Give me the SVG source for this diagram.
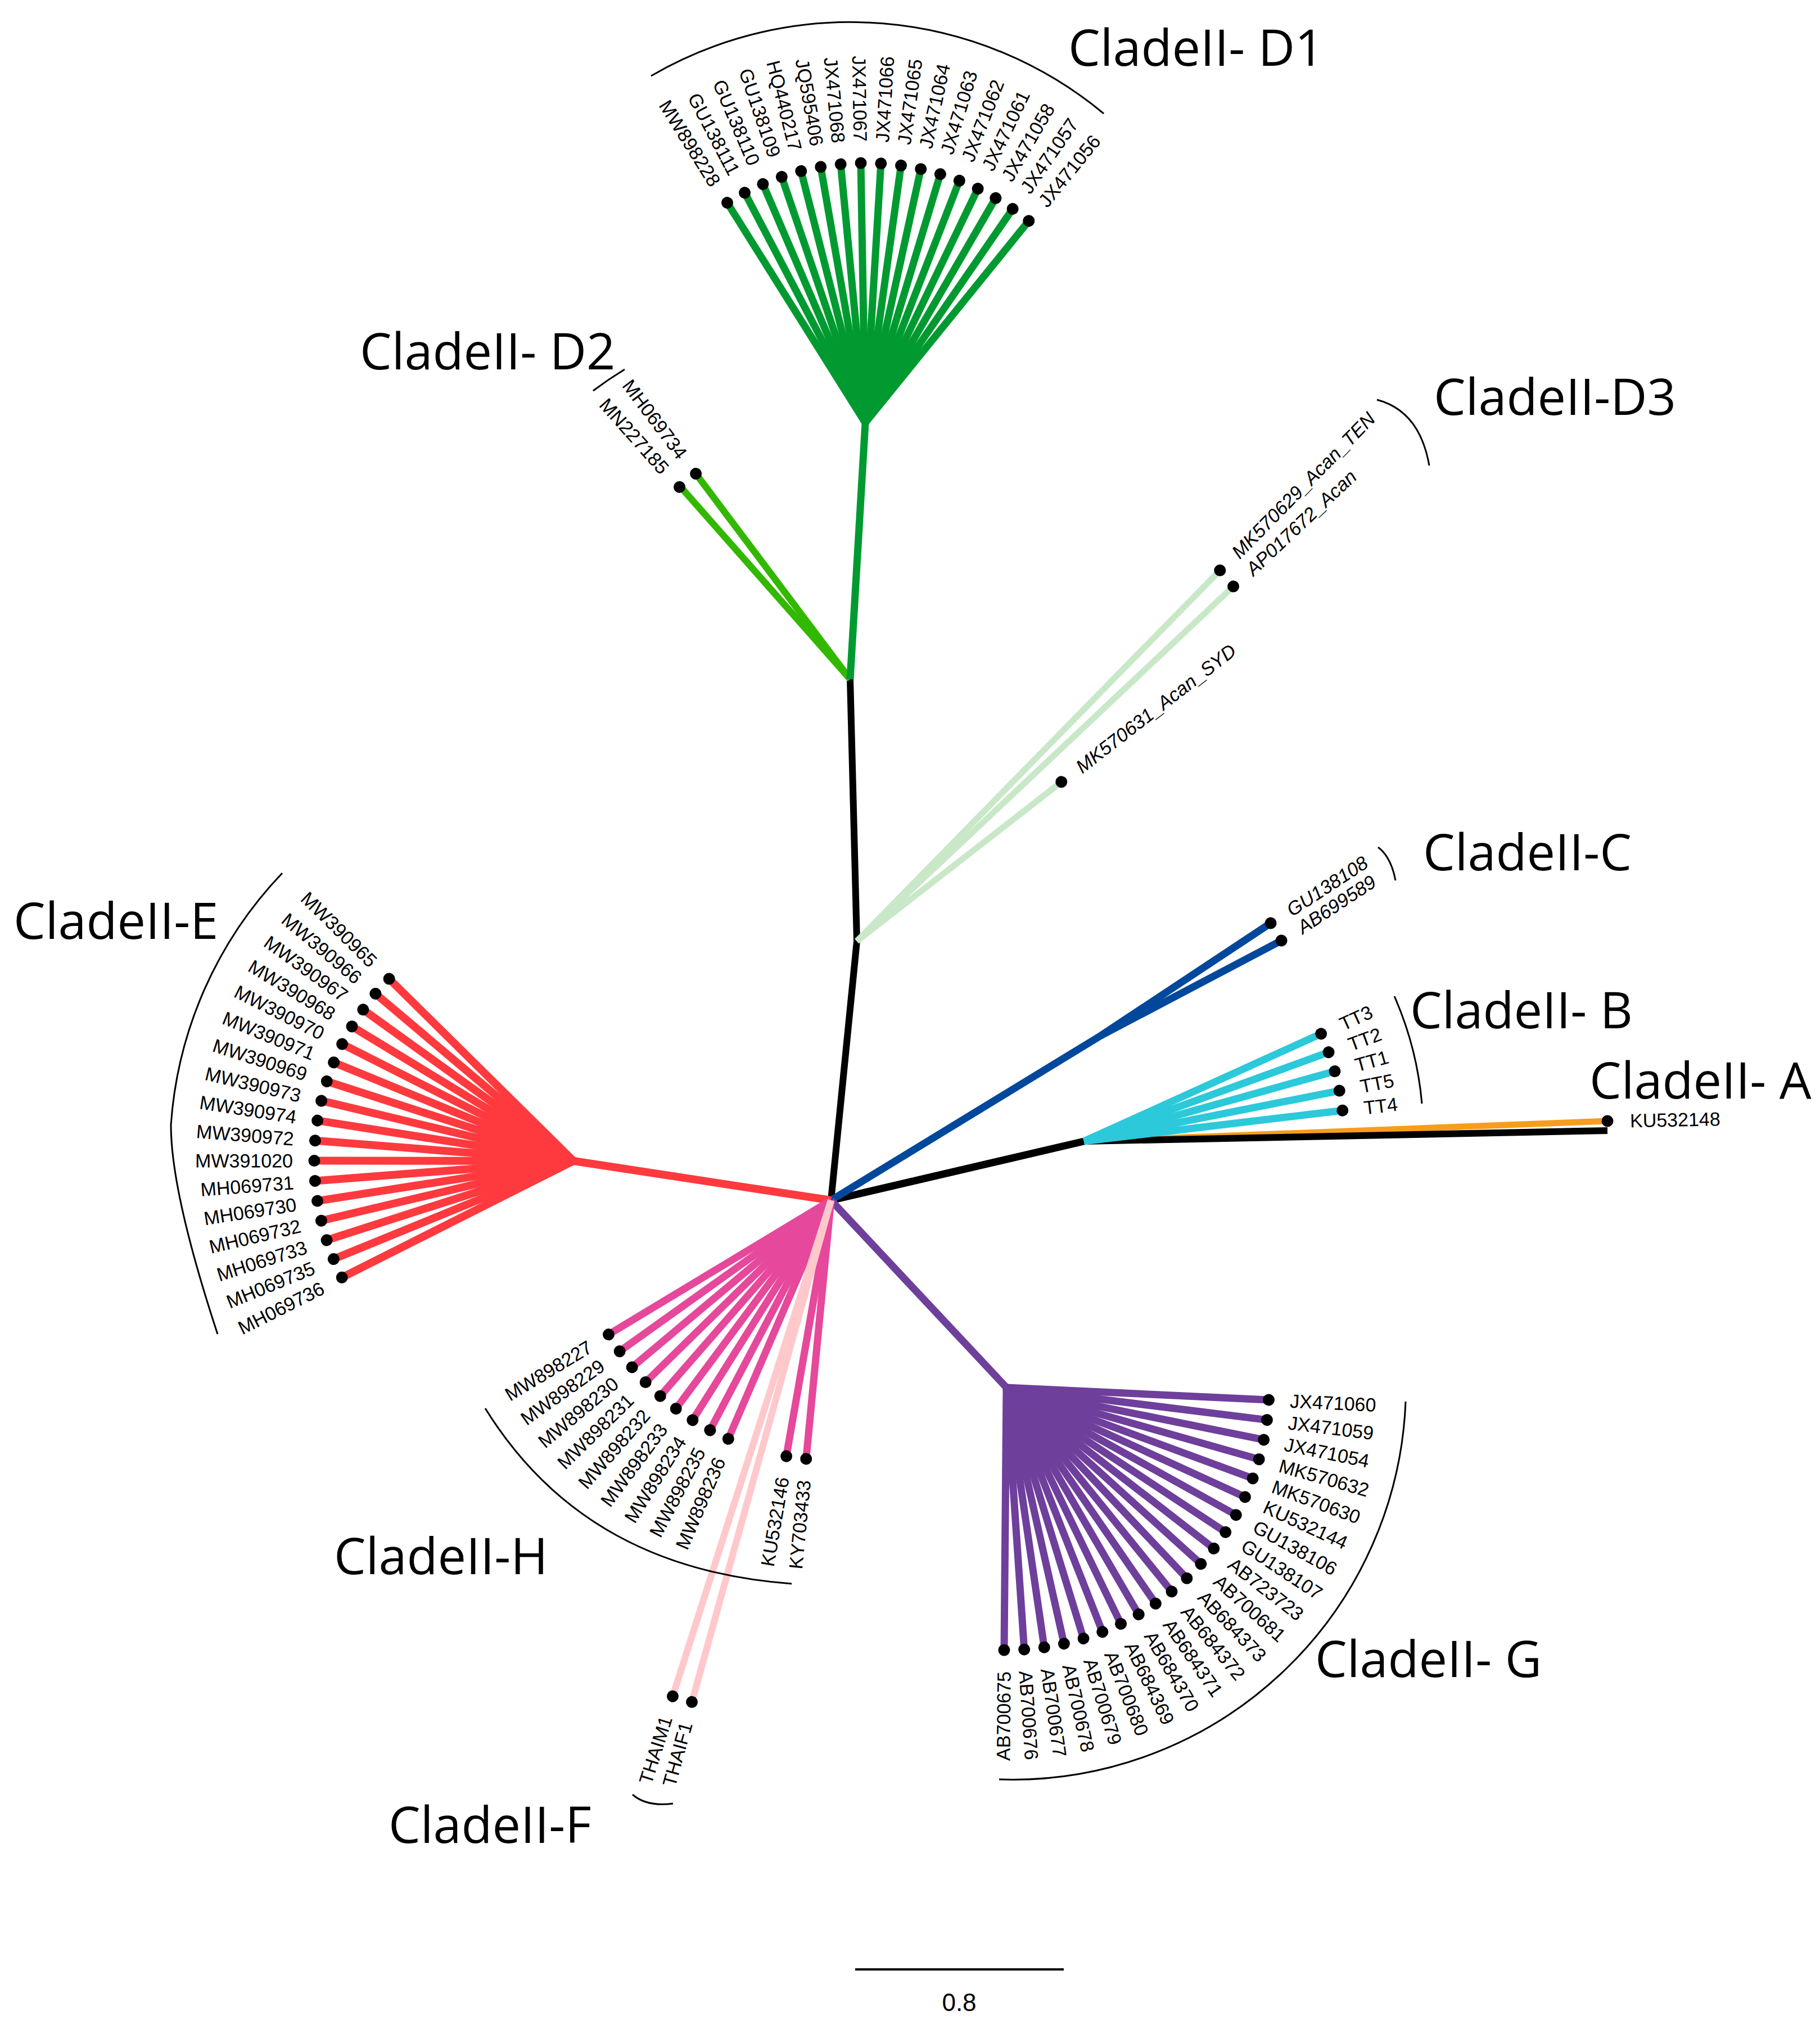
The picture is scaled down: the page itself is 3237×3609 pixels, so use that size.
<svg xmlns="http://www.w3.org/2000/svg" width="3237" height="3609" viewBox="0 0 3237 3609">
<style>
text.l{font-family:"Liberation Sans",Arial,sans-serif;font-size:34px;dominant-baseline:central;fill:#000}
text.f{text-anchor:end}
text.i{font-style:italic}
text.c{font-family:"Open Sans","Noto Sans",sans-serif;font-size:90px;fill:#000}
circle{fill:#000}
line{stroke-linecap:butt}
.brk{fill:none;stroke:#000;stroke-width:3}
.d1{stroke:#009a31;stroke-width:13}
.d2{stroke:#33b800;stroke-width:12}
.d3{stroke:#c8e8c8;stroke-width:11}
.cc{stroke:#00489c;stroke-width:13}
.bb{stroke:#2bc9da;stroke-width:13}
.ee{stroke:#fe3a3f;stroke-width:14}
.hh{stroke:#e6489b;stroke-width:13}
.ff{stroke:#ffc8cb;stroke-width:12}
.gg{stroke:#6e3f9b;stroke-width:13}
</style>
<rect width="3237" height="3609" fill="#fff"/>
<g id="connectors">
  <polyline points="1478,2135 1524,1674 1512,1208" fill="none" stroke="#000" stroke-width="12" stroke-linejoin="round"/>
  <g class="d3" transform="translate(1524,1674)">
    <line x2="923" transform="rotate(-45.6)"/>
    <line x2="920" transform="rotate(-43.3)"/>
    <line x2="461" transform="rotate(-37.9)"/>
  </g>
  <g class="d2" transform="translate(1512,1208)">
    <line x2="457" transform="rotate(-126.9)"/>
    <line x2="457" transform="rotate(-131.4)"/>
  </g>
  <line class="d1" x1="1512" y1="1208" x2="1539" y2="752"/>
  <g class="d1" transform="translate(1539,752)">
    <line x2="462" transform="rotate(-122.1)"/>
    <line x2="462" transform="rotate(-117.66)"/>
    <line x2="462" transform="rotate(-113.21)"/>
    <line x2="462" transform="rotate(-108.77)"/>
    <line x2="462" transform="rotate(-104.32)"/>
    <line x2="462" transform="rotate(-99.88)"/>
    <line x2="462" transform="rotate(-95.44)"/>
    <line x2="462" transform="rotate(-90.99)"/>
    <line x2="462" transform="rotate(-86.55)"/>
    <line x2="462" transform="rotate(-82.1)"/>
    <line x2="462" transform="rotate(-77.66)"/>
    <line x2="462" transform="rotate(-73.22)"/>
    <line x2="462" transform="rotate(-68.77)"/>
    <line x2="462" transform="rotate(-64.33)"/>
    <line x2="462" transform="rotate(-59.88)"/>
    <line x2="462" transform="rotate(-55.44)"/>
    <line x2="462" transform="rotate(-51)"/>
  </g>
  <line x1="1478" y1="2135" x2="1928" y2="2030" stroke="#000" stroke-width="13"/>
  <line x1="1928" y1="2030" x2="2859" y2="1994" stroke="#f79d1c" stroke-width="11"/>
  <line x1="1928" y1="2030" x2="2859" y2="2011" stroke="#000" stroke-width="12"/>
  <polyline class="cc" points="1478,2135 1958,1842 2260,1642" fill="none" stroke-linejoin="round"/>
  <line class="cc" x1="1958" y1="1842" x2="2279" y2="1673"/>
  <g class="bb" transform="translate(1928,2030)">
    <line x2="463" transform="rotate(-24.4)"/>
    <line x2="463" transform="rotate(-20)"/>
    <line x2="463" transform="rotate(-15.6)"/>
    <line x2="463" transform="rotate(-11.2)"/>
    <line x2="463" transform="rotate(-6.8)"/>
  </g>
  <line class="ee" x1="1478" y1="2135" x2="1020" y2="2065"/>
  <g class="ee" transform="translate(1020,2065)">
    <line x2="461" transform="rotate(224.65)"/>
    <line x2="461" transform="rotate(220.19)"/>
    <line x2="461" transform="rotate(215.73)"/>
    <line x2="461" transform="rotate(211.27)"/>
    <line x2="461" transform="rotate(206.81)"/>
    <line x2="461" transform="rotate(202.35)"/>
    <line x2="461" transform="rotate(197.89)"/>
    <line x2="461" transform="rotate(193.43)"/>
    <line x2="461" transform="rotate(188.97)"/>
    <line x2="461" transform="rotate(184.51)"/>
    <line x2="461" transform="rotate(180.05)"/>
    <line x2="461" transform="rotate(175.59)"/>
    <line x2="461" transform="rotate(171.13)"/>
    <line x2="461" transform="rotate(166.67)"/>
    <line x2="461" transform="rotate(162.21)"/>
    <line x2="461" transform="rotate(157.75)"/>
    <line x2="461" transform="rotate(153.29)"/>
  </g>
  <line class="gg" x1="1478" y1="2135" x2="1790" y2="2468"/>
  <g class="gg" transform="translate(1790,2468)">
    <line x2="467" transform="rotate(2.7)"/>
    <line x2="467" transform="rotate(7.09)"/>
    <line x2="467" transform="rotate(11.48)"/>
    <line x2="467" transform="rotate(15.87)"/>
    <line x2="467" transform="rotate(20.26)"/>
    <line x2="467" transform="rotate(24.65)"/>
    <line x2="467" transform="rotate(29.04)"/>
    <line x2="467" transform="rotate(33.43)"/>
    <line x2="467" transform="rotate(37.82)"/>
    <line x2="467" transform="rotate(42.21)"/>
    <line x2="467" transform="rotate(46.6)"/>
    <line x2="467" transform="rotate(50.99)"/>
    <line x2="467" transform="rotate(55.38)"/>
    <line x2="467" transform="rotate(59.77)"/>
    <line x2="467" transform="rotate(64.16)"/>
    <line x2="467" transform="rotate(68.55)"/>
    <line x2="467" transform="rotate(72.94)"/>
    <line x2="467" transform="rotate(77.33)"/>
    <line x2="467" transform="rotate(81.72)"/>
    <line x2="467" transform="rotate(86.11)"/>
    <line x2="467" transform="rotate(90.5)"/>
  </g>
  <g class="hh" transform="translate(1478,2135)">
    <line x2="462" transform="rotate(148.9)"/>
    <line x2="462" transform="rotate(144.45)"/>
    <line x2="462" transform="rotate(140)"/>
    <line x2="462" transform="rotate(135.55)"/>
    <line x2="462" transform="rotate(131.1)"/>
    <line x2="462" transform="rotate(126.65)"/>
    <line x2="462" transform="rotate(122.2)"/>
    <line x2="462" transform="rotate(117.75)"/>
    <line x2="462" transform="rotate(113.3)"/>
    <line x2="462" transform="rotate(99.9)"/>
    <line x2="462" transform="rotate(95.5)"/>
  </g>
  <g class="ff" transform="translate(1478,2135)">
    <line x2="926" transform="rotate(107.7)"/>
    <line x2="926" transform="rotate(105.5)"/>
  </g>
</g>
<g id="brackets">
  <path class="brk" d="M1158,135 A705,705 0 0 1 1963,202"/>
  <path class="brk" d="M1111,657 A684,684 0 0 0 1055,695"/>
  <path class="brk" d="M2449,711 Q2525,731 2542,828"/>
  <path class="brk" d="M2451,1507 Q2474,1524 2482,1566"/>
  <path class="brk" d="M2480,1772 A608,608 0 0 1 2529,1963"/>
  <path class="brk" d="M502,1553 A720,720 0 0 0 304,2001 C304,2090 340,2230 387,2373"/>
  <path class="brk" d="M863,2505 C990,2710 1180,2800 1408,2817"/>
  <path class="brk" d="M1125,3192 Q1150,3214 1197,3208"/>
  <path class="brk" d="M2500,2493 A700,700 0 0 1 1777,3165"/>
</g>
<g id="clade-D1" transform="translate(1539,752)">
  <g id="MW898228" transform="rotate(-122.1)"><circle cx="462" r="10.5"/><text class="l f" x="500" transform="rotate(180 500 0)">MW898228</text></g>
  <g id="GU138111" transform="rotate(-117.66)"><circle cx="462" r="10.5"/><text class="l f" x="500" transform="rotate(180 500 0)">GU138111</text></g>
  <g id="GU138110" transform="rotate(-113.21)"><circle cx="462" r="10.5"/><text class="l f" x="500" transform="rotate(180 500 0)">GU138110</text></g>
  <g id="GU138109" transform="rotate(-108.77)"><circle cx="462" r="10.5"/><text class="l f" x="500" transform="rotate(180 500 0)">GU138109</text></g>
  <g id="HQ440217" transform="rotate(-104.32)"><circle cx="462" r="10.5"/><text class="l f" x="500" transform="rotate(180 500 0)">HQ440217</text></g>
  <g id="JQ595406" transform="rotate(-99.88)"><circle cx="462" r="10.5"/><text class="l f" x="500" transform="rotate(180 500 0)">JQ595406</text></g>
  <g id="JX471068" transform="rotate(-95.44)"><circle cx="462" r="10.5"/><text class="l f" x="500" transform="rotate(180 500 0)">JX471068</text></g>
  <g id="JX471067" transform="rotate(-90.99)"><circle cx="462" r="10.5"/><text class="l f" x="500" transform="rotate(180 500 0)">JX471067</text></g>
  <g id="JX471066" transform="rotate(-86.55)"><circle cx="462" r="10.5"/><text class="l" x="500">JX471066</text></g>
  <g id="JX471065" transform="rotate(-82.1)"><circle cx="462" r="10.5"/><text class="l" x="500">JX471065</text></g>
  <g id="JX471064" transform="rotate(-77.66)"><circle cx="462" r="10.5"/><text class="l" x="500">JX471064</text></g>
  <g id="JX471063" transform="rotate(-73.22)"><circle cx="462" r="10.5"/><text class="l" x="500">JX471063</text></g>
  <g id="JX471062" transform="rotate(-68.77)"><circle cx="462" r="10.5"/><text class="l" x="500">JX471062</text></g>
  <g id="JX471061" transform="rotate(-64.33)"><circle cx="462" r="10.5"/><text class="l" x="500">JX471061</text></g>
  <g id="JX471058" transform="rotate(-59.88)"><circle cx="462" r="10.5"/><text class="l" x="500">JX471058</text></g>
  <g id="JX471057" transform="rotate(-55.44)"><circle cx="462" r="10.5"/><text class="l" x="500">JX471057</text></g>
  <g id="JX471056" transform="rotate(-51)"><circle cx="462" r="10.5"/><text class="l" x="500">JX471056</text></g>
</g>
<g id="clade-D2" transform="translate(1512,1208)">
  <g id="MH069734" transform="rotate(-126.9)"><circle cx="457" r="10.5"/><text class="l f" x="495" transform="rotate(180 495 0)">MH069734</text></g>
  <g id="MN227185" transform="rotate(-131.6)"><circle cx="457" r="10.5"/><text class="l f" x="495" transform="rotate(180 495 0)">MN227185</text></g>
</g>
<g id="clade-D3" transform="translate(1524,1674)">
  <g id="MK570629_Acan_TEN" transform="rotate(-45.6)"><circle cx="923" r="10.5"/><text class="l i" x="961">MK570629_Acan_TEN</text></g>
  <g id="AP017672_Acan" transform="rotate(-43.3)"><circle cx="920" r="10.5"/><text class="l i" x="958">AP017672_Acan</text></g>
  <g id="MK570631_Acan_SYD" transform="rotate(-37.9)"><circle cx="461" r="10.5"/><text class="l i" x="499">MK570631_Acan_SYD</text></g>
</g>
<g id="clade-C">
  <g id="GU138108" transform="translate(2260,1642) rotate(-33.3)"><circle r="10.5"/><text class="l i" x="38">GU138108</text></g>
  <g id="AB699589" transform="translate(2279,1673) rotate(-33.3)"><circle r="10.5"/><text class="l i" x="38">AB699589</text></g>
</g>
<g id="clade-B" transform="translate(1928,2030)">
  <g id="TT3" transform="rotate(-24.4)"><circle cx="463" r="10.5"/><text class="l" x="501">TT3</text></g>
  <g id="TT2" transform="rotate(-20)"><circle cx="463" r="10.5"/><text class="l" x="501">TT2</text></g>
  <g id="TT1" transform="rotate(-15.6)"><circle cx="463" r="10.5"/><text class="l" x="501">TT1</text></g>
  <g id="TT5" transform="rotate(-11.2)"><circle cx="463" r="10.5"/><text class="l" x="501">TT5</text></g>
  <g id="TT4" transform="rotate(-6.8)"><circle cx="463" r="10.5"/><text class="l" x="501">TT4</text></g>
</g>
<g id="clade-A">
  <g id="KU532148" transform="translate(2859,1994) rotate(-1.1)"><circle r="10.5"/><text class="l" x="40">KU532148</text></g>
</g>
<g id="clade-E" transform="translate(1020,2065)">
  <g id="MW390965" transform="rotate(224.65)"><circle cx="461" r="10.5"/><text class="l f" x="499" transform="rotate(180 499 0)">MW390965</text></g>
  <g id="MW390966" transform="rotate(220.19)"><circle cx="461" r="10.5"/><text class="l f" x="499" transform="rotate(180 499 0)">MW390966</text></g>
  <g id="MW390967" transform="rotate(215.73)"><circle cx="461" r="10.5"/><text class="l f" x="499" transform="rotate(180 499 0)">MW390967</text></g>
  <g id="MW390968" transform="rotate(211.27)"><circle cx="461" r="10.5"/><text class="l f" x="499" transform="rotate(180 499 0)">MW390968</text></g>
  <g id="MW390970" transform="rotate(206.81)"><circle cx="461" r="10.5"/><text class="l f" x="499" transform="rotate(180 499 0)">MW390970</text></g>
  <g id="MW390971" transform="rotate(202.35)"><circle cx="461" r="10.5"/><text class="l f" x="499" transform="rotate(180 499 0)">MW390971</text></g>
  <g id="MW390969" transform="rotate(197.89)"><circle cx="461" r="10.5"/><text class="l f" x="499" transform="rotate(180 499 0)">MW390969</text></g>
  <g id="MW390973" transform="rotate(193.43)"><circle cx="461" r="10.5"/><text class="l f" x="499" transform="rotate(180 499 0)">MW390973</text></g>
  <g id="MW390974" transform="rotate(188.97)"><circle cx="461" r="10.5"/><text class="l f" x="499" transform="rotate(180 499 0)">MW390974</text></g>
  <g id="MW390972" transform="rotate(184.51)"><circle cx="461" r="10.5"/><text class="l f" x="499" transform="rotate(180 499 0)">MW390972</text></g>
  <g id="MW391020" transform="rotate(180.05)"><circle cx="461" r="10.5"/><text class="l f" x="499" transform="rotate(180 499 0)">MW391020</text></g>
  <g id="MH069731" transform="rotate(175.59)"><circle cx="461" r="10.5"/><text class="l f" x="499" transform="rotate(180 499 0)">MH069731</text></g>
  <g id="MH069730" transform="rotate(171.13)"><circle cx="461" r="10.5"/><text class="l f" x="499" transform="rotate(180 499 0)">MH069730</text></g>
  <g id="MH069732" transform="rotate(166.67)"><circle cx="461" r="10.5"/><text class="l f" x="499" transform="rotate(180 499 0)">MH069732</text></g>
  <g id="MH069733" transform="rotate(162.21)"><circle cx="461" r="10.5"/><text class="l f" x="499" transform="rotate(180 499 0)">MH069733</text></g>
  <g id="MH069735" transform="rotate(157.75)"><circle cx="461" r="10.5"/><text class="l f" x="499" transform="rotate(180 499 0)">MH069735</text></g>
  <g id="MH069736" transform="rotate(153.29)"><circle cx="461" r="10.5"/><text class="l f" x="499" transform="rotate(180 499 0)">MH069736</text></g>
</g>
<g id="clade-H" transform="translate(1478,2135)">
  <g id="MW898227" transform="rotate(148.9)"><circle cx="462" r="10.5"/><text class="l f" x="500" transform="rotate(180 500 0)">MW898227</text></g>
  <g id="MW898229" transform="rotate(144.45)"><circle cx="462" r="10.5"/><text class="l f" x="500" transform="rotate(180 500 0)">MW898229</text></g>
  <g id="MW898230" transform="rotate(140)"><circle cx="462" r="10.5"/><text class="l f" x="500" transform="rotate(180 500 0)">MW898230</text></g>
  <g id="MW898231" transform="rotate(135.55)"><circle cx="462" r="10.5"/><text class="l f" x="500" transform="rotate(180 500 0)">MW898231</text></g>
  <g id="MW898232" transform="rotate(131.1)"><circle cx="462" r="10.5"/><text class="l f" x="500" transform="rotate(180 500 0)">MW898232</text></g>
  <g id="MW898233" transform="rotate(126.65)"><circle cx="462" r="10.5"/><text class="l f" x="500" transform="rotate(180 500 0)">MW898233</text></g>
  <g id="MW898234" transform="rotate(122.2)"><circle cx="462" r="10.5"/><text class="l f" x="500" transform="rotate(180 500 0)">MW898234</text></g>
  <g id="MW898235" transform="rotate(117.75)"><circle cx="462" r="10.5"/><text class="l f" x="500" transform="rotate(180 500 0)">MW898235</text></g>
  <g id="MW898236" transform="rotate(113.3)"><circle cx="462" r="10.5"/><text class="l f" x="500" transform="rotate(180 500 0)">MW898236</text></g>
  <g id="KU532146" transform="rotate(99.9)"><circle cx="462" r="10.5"/><text class="l f" x="500" transform="rotate(180 500 0)">KU532146</text></g>
  <g id="KY703433" transform="rotate(95.5)"><circle cx="462" r="10.5"/><text class="l f" x="500" transform="rotate(180 500 0)">KY703433</text></g>
</g>
<g id="clade-F" transform="translate(1478,2135)">
  <g id="THAIM1" transform="rotate(107.7)"><circle cx="926" r="10.5"/><text class="l f" x="964" transform="rotate(180 964 0)">THAIM1</text></g>
  <g id="THAIF1" transform="rotate(105.5)"><circle cx="926" r="10.5"/><text class="l f" x="964" transform="rotate(180 964 0)">THAIF1</text></g>
</g>
<g id="clade-G" transform="translate(1790,2468)">
  <g id="JX471060" transform="rotate(2.7)"><circle cx="467" r="10.5"/><text class="l" x="505">JX471060</text></g>
  <g id="JX471059" transform="rotate(7.09)"><circle cx="467" r="10.5"/><text class="l" x="505">JX471059</text></g>
  <g id="JX471054" transform="rotate(11.48)"><circle cx="467" r="10.5"/><text class="l" x="505">JX471054</text></g>
  <g id="MK570632" transform="rotate(15.87)"><circle cx="467" r="10.5"/><text class="l" x="505">MK570632</text></g>
  <g id="MK570630" transform="rotate(20.26)"><circle cx="467" r="10.5"/><text class="l" x="505">MK570630</text></g>
  <g id="KU532144" transform="rotate(24.65)"><circle cx="467" r="10.5"/><text class="l" x="505">KU532144</text></g>
  <g id="GU138106" transform="rotate(29.04)"><circle cx="467" r="10.5"/><text class="l" x="505">GU138106</text></g>
  <g id="GU138107" transform="rotate(33.43)"><circle cx="467" r="10.5"/><text class="l" x="505">GU138107</text></g>
  <g id="AB723723" transform="rotate(37.82)"><circle cx="467" r="10.5"/><text class="l" x="505">AB723723</text></g>
  <g id="AB700681" transform="rotate(42.21)"><circle cx="467" r="10.5"/><text class="l" x="505">AB700681</text></g>
  <g id="AB684373" transform="rotate(46.6)"><circle cx="467" r="10.5"/><text class="l" x="505">AB684373</text></g>
  <g id="AB684372" transform="rotate(50.99)"><circle cx="467" r="10.5"/><text class="l" x="505">AB684372</text></g>
  <g id="AB684371" transform="rotate(55.38)"><circle cx="467" r="10.5"/><text class="l" x="505">AB684371</text></g>
  <g id="AB684370" transform="rotate(59.77)"><circle cx="467" r="10.5"/><text class="l" x="505">AB684370</text></g>
  <g id="AB684369" transform="rotate(64.16)"><circle cx="467" r="10.5"/><text class="l" x="505">AB684369</text></g>
  <g id="AB700680" transform="rotate(68.55)"><circle cx="467" r="10.5"/><text class="l" x="505">AB700680</text></g>
  <g id="AB700679" transform="rotate(72.94)"><circle cx="467" r="10.5"/><text class="l" x="505">AB700679</text></g>
  <g id="AB700678" transform="rotate(77.33)"><circle cx="467" r="10.5"/><text class="l" x="505">AB700678</text></g>
  <g id="AB700677" transform="rotate(81.72)"><circle cx="467" r="10.5"/><text class="l" x="505">AB700677</text></g>
  <g id="AB700676" transform="rotate(86.11)"><circle cx="467" r="10.5"/><text class="l" x="505">AB700676</text></g>
  <g id="AB700675" transform="rotate(90.5)"><circle cx="467" r="10.5"/><text class="l f" x="505" transform="rotate(180 505 0)">AB700675</text></g>
</g>
<g id="clade-labels">
  <text class="c" x="1900" y="117">CladeII- D1</text>
  <text class="c" x="640" y="657">CladeII- D2</text>
  <text class="c" x="2550" y="738">CladeII-D3</text>
  <text class="c" x="2531" y="1548">CladeII-C</text>
  <text class="c" x="2508" y="1829">CladeII- B</text>
  <text class="c" x="2827" y="1954">CladeII- A</text>
  <text class="c" x="24" y="1670">CladeII-E</text>
  <text class="c" x="594" y="2800">CladeII-H</text>
  <text class="c" x="2339" y="2983">CladeII- G</text>
  <text class="c" x="691" y="3278">CladeII-F</text>
</g>
<g id="scale-bar">
  <line x1="1521" y1="3503" x2="1892" y2="3503" stroke="#000" stroke-width="4"/>
  <text x="1706" y="3577" font-family="Liberation Sans, Arial, sans-serif" font-size="44" text-anchor="middle">0.8</text>
</g>
</svg>
